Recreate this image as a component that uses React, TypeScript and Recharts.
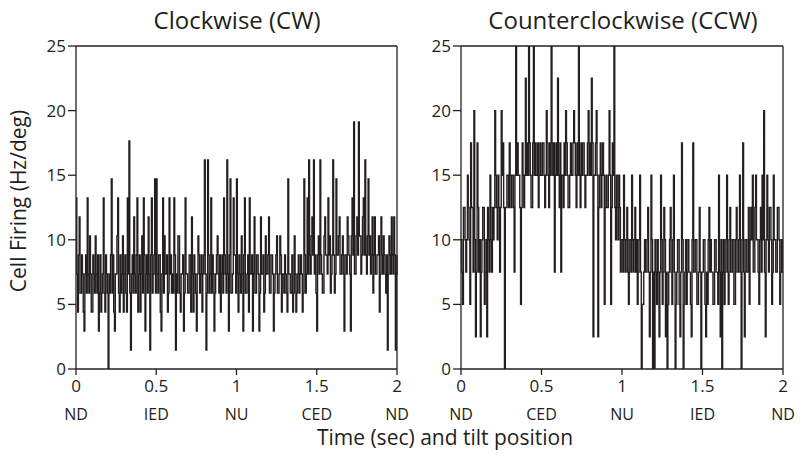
import React from "react";
import { Line, LineChart, ReferenceLine, XAxis, YAxis } from "recharts";

// spike counts per 5 ms bin (one row = 0.1 s)
const CW_UNIT = 25 / 17; // Hz/deg per count (CW panel)
const CCW_UNIT = 2.5; // Hz/deg per count (CCW panel)

const cwCounts = [
  9, 5, 3, 6, 8, 4, 4, 6, 5, 3, 2, 5, 6, 4, 9, 5, 4, 7, 5, 3,
  3, 6, 5, 4, 7, 5, 4, 6, 2, 4, 6, 3, 4, 5, 9, 4, 3, 6, 5, 4,
  0, 5, 4, 6, 10, 4, 6, 3, 2, 5, 5, 7, 9, 4, 3, 6, 4, 5, 7, 3,
  5, 6, 4, 3, 9, 5, 12, 4, 1, 5, 6, 4, 8, 5, 4, 6, 9, 3, 5, 6,
  3, 5, 7, 4, 9, 6, 2, 5, 6, 4, 8, 5, 1, 6, 9, 4, 5, 6, 10, 4,
  10, 5, 4, 6, 6, 3, 2, 5, 9, 4, 7, 5, 5, 6, 3, 4, 9, 5, 6, 4,
  5, 4, 9, 6, 1, 5, 4, 7, 7, 4, 3, 5, 5, 6, 2, 4, 9, 5, 5, 4,
  4, 6, 6, 3, 8, 5, 3, 6, 5, 4, 2, 5, 7, 6, 4, 5, 6, 3, 5, 6,
  11, 5, 1, 4, 11, 6, 4, 5, 9, 4, 6, 5, 2, 4, 5, 6, 7, 5, 4, 6,
  3, 5, 6, 4, 9, 6, 5, 4, 11, 5, 2, 6, 10, 4, 4, 5, 9, 6, 6, 4,
  10, 5, 3, 6, 5, 4, 7, 5, 2, 6, 9, 4, 4, 5, 6, 3, 9, 5, 5, 6,
  2, 5, 8, 4, 4, 6, 6, 5, 2, 4, 8, 5, 5, 6, 3, 4, 7, 5, 5, 6,
  8, 4, 4, 6, 6, 5, 2, 4, 5, 6, 7, 4, 4, 5, 7, 6, 3, 5, 5, 4,
  6, 5, 4, 3, 10, 5, 5, 4, 4, 6, 3, 4, 7, 5, 3, 4, 5, 6, 4, 5,
  6, 5, 3, 4, 10, 6, 4, 5, 9, 5, 11, 6, 5, 7, 8, 6, 11, 5, 6, 4,
  2, 6, 7, 5, 11, 6, 5, 4, 4, 7, 8, 6, 6, 5, 9, 6, 7, 4, 5, 6,
  11, 6, 4, 5, 10, 6, 6, 7, 8, 5, 5, 6, 7, 5, 2, 6, 6, 5, 8, 7,
  6, 5, 2, 7, 9, 6, 13, 5, 5, 7, 8, 6, 13, 7, 7, 5, 6, 8, 9, 6,
  11, 6, 5, 7, 10, 6, 7, 5, 6, 8, 4, 6, 8, 5, 5, 6, 6, 7, 3, 5,
  8, 6, 5, 7, 6, 5, 4, 6, 1, 5, 7, 6, 5, 8, 6, 5, 8, 6, 1, 5,
  6,
];

const ccwCounts = [
  4, 3, 2, 5, 5, 4, 3, 4, 6, 5, 4, 2, 7, 5, 5, 3, 8, 4, 1, 3,
  7, 5, 3, 4, 1, 3, 4, 5, 5, 2, 3, 4, 1, 5, 4, 3, 6, 4, 3, 5,
  4, 5, 8, 6, 5, 4, 6, 5, 3, 5, 8, 6, 7, 5, 0, 5, 5, 6, 6, 5,
  7, 6, 5, 6, 6, 5, 3, 6, 10, 6, 7, 6, 6, 5, 2, 5, 7, 6, 5, 6,
  9, 6, 7, 6, 10, 7, 6, 5, 5, 7, 10, 6, 7, 6, 6, 7, 5, 6, 7, 6,
  6, 7, 7, 6, 5, 6, 8, 7, 6, 5, 7, 6, 10, 7, 6, 7, 3, 6, 7, 6,
  9, 6, 5, 7, 3, 6, 6, 5, 7, 6, 8, 7, 6, 5, 5, 6, 7, 6, 6, 7,
  8, 7, 6, 5, 7, 6, 10, 6, 5, 7, 6, 7, 7, 6, 5, 6, 6, 7, 8, 6,
  7, 6, 9, 7, 1, 6, 6, 7, 8, 6, 1, 5, 6, 7, 5, 6, 7, 6, 2, 5,
  6, 5, 5, 6, 8, 6, 2, 5, 7, 6, 10, 5, 4, 6, 5, 4, 6, 5, 3, 4,
  4, 3, 6, 4, 3, 4, 5, 3, 2, 4, 4, 3, 6, 4, 3, 4, 5, 3, 4, 2,
  3, 4, 6, 3, 0, 2, 2, 3, 4, 3, 3, 4, 5, 3, 1, 3, 6, 4, 0, 3,
  0, 4, 3, 2, 4, 3, 1, 3, 6, 4, 2, 3, 5, 4, 1, 3, 0, 2, 3, 4,
  5, 3, 2, 4, 6, 3, 0, 2, 3, 4, 4, 2, 1, 3, 7, 4, 0, 2, 3, 4,
  2, 3, 4, 3, 3, 2, 1, 4, 7, 3, 3, 4, 4, 2, 2, 3, 5, 3, 0, 3,
  3, 4, 4, 2, 1, 3, 2, 4, 5, 3, 4, 3, 3, 2, 2, 4, 4, 3, 3, 2,
  6, 3, 1, 4, 0, 3, 4, 2, 3, 4, 6, 3, 2, 4, 5, 3, 3, 4, 4, 2,
  2, 4, 5, 3, 3, 4, 6, 3, 0, 4, 7, 3, 1, 4, 4, 3, 3, 5, 2, 4,
  5, 4, 6, 3, 3, 5, 6, 4, 4, 3, 2, 4, 5, 3, 6, 4, 8, 3, 1, 4,
  6, 4, 3, 5, 5, 4, 2, 3, 6, 4, 4, 3, 3, 5, 5, 4, 2, 3, 4, 3,
  3,
];

const BIN_SEC = 0.005;
const timeTicks = [0, 0.5, 1, 1.5, 2];
const cwPositions = ["ND", "IED", "NU", "CED", "ND"];
const ccwPositions = ["ND", "CED", "NU", "IED", "ND"];
const rateTicks = [0, 5, 10, 15, 20, 25];

const FONT = "'Open Sans', 'Noto Sans', sans-serif";
const INK = "#231f20";

const toRows = (counts: number[], unit: number) =>
  counts.map((c, i) => ({ t: +(i * BIN_SEC).toFixed(3), rate: c * unit }));

function TimeTick(props: any) {
  const { x, y, payload, names } = props;
  const idx = timeTicks.indexOf(payload.value);
  return (
    <g transform={`translate(${x},${y})`}>
      <text x={0} y={0} dy={15} textAnchor="middle" fontSize={17} fontFamily={FONT} fill={INK}>
        {payload.value}
      </text>
      <text x={0} y={0} dy={43} textAnchor="middle" fontSize={16} fontFamily={FONT} fill={INK}>
        {names[idx]}
      </text>
    </g>
  );
}

function Panel({ rows, names, width, yWidth, right }: { rows: any[]; names: string[]; width: number; yWidth: number; right: number }) {
  return (
    <LineChart width={width} height={467} data={rows} margin={{ top: 46, right, bottom: 0, left: 0 }}>
      <XAxis
        dataKey="t"
        type="number"
        domain={[0, 2]}
        ticks={timeTicks}
        interval={0}
        height={98}
        stroke={INK}
        strokeWidth={1.3}
        tickSize={6}
        tick={<TimeTick names={names} />}
      />
      <YAxis
        domain={[0, 25]}
        ticks={rateTicks}
        interval={0}
        width={yWidth}
        stroke={INK}
        strokeWidth={1.3}
        tickSize={8}
        tick={{ fontSize: 17, fontFamily: FONT, fill: INK }}
        allowDataOverflow
      />
      <ReferenceLine y={25} stroke={INK} strokeWidth={1.3} />
      <ReferenceLine x={2} stroke={INK} strokeWidth={1.3} />
      <Line
        dataKey="rate"
        type="stepAfter"
        stroke={INK}
        strokeWidth={1.4}
        dot={false}
        isAnimationActive={false}
      />
    </LineChart>
  );
}

export default function App() {
  const cwRows = toRows(cwCounts, CW_UNIT);
  const ccwRows = toRows(ccwCounts, CCW_UNIT);
  return (
    <div style={{ position: "absolute", left: 0, top: 0, width: 800, height: 467, background: "#fff", fontFamily: FONT, color: INK }}>
      <div style={{ position: "absolute", left: 0, top: 0 }}>
        <Panel rows={cwRows} names={cwPositions} width={420} yWidth={76} right={23} />
      </div>
      <div style={{ position: "absolute", left: 400, top: 0 }}>
        <Panel rows={ccwRows} names={ccwPositions} width={400} yWidth={61} right={17} />
      </div>
      <div style={{ position: "absolute", left: 117, top: 3, width: 240, textAlign: "center", fontSize: 24 }}>Clockwise (CW)</div>
      <div style={{ position: "absolute", left: 463, top: 3, width: 320, textAlign: "center", fontSize: 24 }}>Counterclockwise (CCW)</div>
      <div
        style={{
          position: "absolute",
          left: 18,
          top: 201,
          transform: "translate(-50%, -50%) rotate(-90deg)",
          whiteSpace: "nowrap",
          fontSize: 21,
        }}
      >
        Cell Firing (Hz/deg)
      </div>
      <div style={{ position: "absolute", left: 245, top: 423, width: 400, textAlign: "center", fontSize: 21 }}>
        Time (sec) and tilt position
      </div>
    </div>
  );
}
